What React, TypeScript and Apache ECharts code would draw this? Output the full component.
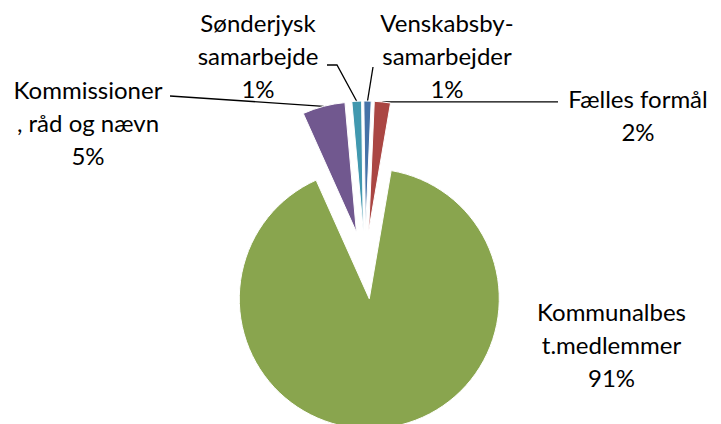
import React, { useEffect, useRef } from "react";
import * as echarts from "echarts";

// ---- data ----
const categories = [
  "Fælles formål",
  "Kommunalbest.medlemmer",
  "Kommissioner, råd og nævn",
  "Sønderjysk samarbejde",
  "Venskabsby-samarbejder",
];
// shares (percent)
const shares = [2.0, 90.6, 5.3, 1.2, 0.9];
// wrapped label text as shown in the picture
const labelTexts = [
  "Fælles formål",
  "Kommunalbes\nt.medlemmer",
  "Kommissioner\n, råd og nævn",
  "Sønderjysk\nsamarbejde",
  "Venskabsby-\nsamarbejder",
];

// ---- styles / layout ----
const colors = ["#AA4643", "#89A54E", "#71588F", "#4198AF", "#4572A7"];
const CENTER = [365, 265];
const RADIUS = 130;
const EXPLODE = 34;
const START_ANGLE = 87.5;
// label block centres
const labelPos: number[][] = [
  [638, 114.5],
  [611.5, 344],
  [88, 122],
  [258, 55],
  [447, 55],
];
// leader line points after the slice anchor (null = no line; -1 = same y as anchor)
const lineEnds: (number[][] | null)[] = [
  [[558, -1]],
  null,
  [[170, 96]],
  [[337, 65], [327, 65]],
  [[373, 67]],
];

export default function App() {
  const ref = useRef<HTMLDivElement>(null);
  useEffect(() => {
    if (!ref.current) return;
    const chart = echarts.init(ref.current, null, { renderer: "svg" });
    const sliceData = categories.map((name, i) => ({
      name,
      value: shares[i],
      selected: true,
      itemStyle: { color: colors[i] },
    }));
    const labelData = categories.map((name, i) => ({
      name,
      value: shares[i],
      labelLine: { show: lineEnds[i] !== null },
    }));
    const common = {
      type: "pie",
      center: CENTER,
      radius: RADIUS,
      startAngle: START_ANGLE,
      clockwise: true,
      avoidLabelOverlap: false,
      emphasis: { disabled: true },
    };
    chart.setOption({
      animation: false,
      backgroundColor: "#ffffff",
      series: [
        {
          ...common,
          selectedMode: "multiple",
          selectedOffset: EXPLODE,
          itemStyle: { borderColor: "#ffffff", borderWidth: 1 },
          label: { show: false },
          labelLine: { show: false },
          data: sliceData,
        },
        {
          ...common,
          silent: true,
          itemStyle: { color: "rgba(0,0,0,0)", borderWidth: 0 },
          label: {
            show: true,
            position: "outside",
            formatter: (p: any) =>
              labelTexts[p.dataIndex] + "\n" + Math.round(p.percent) + "%",
            color: "#000000",
            fontFamily: "Lato, 'Liberation Sans', sans-serif",
            fontSize: 24,
            lineHeight: 33,
            align: "center",
          },
          labelLine: {
            show: true,
            lineStyle: { color: "#000000", width: 1.3 },
          },
          labelLayout: (params: any) => {
            const i = params.dataIndex;
            const res: any = {
              x: labelPos[i][0],
              y: labelPos[i][1],
              align: "center",
              verticalAlign: "middle",
            };
            const pts = params.labelLinePoints;
            const ends = lineEnds[i];
            if (pts && ends) {
              const p0 = pts[0];
              const vx = p0[0] - CENTER[0];
              const vy = p0[1] - CENTER[1];
              const len = Math.sqrt(vx * vx + vy * vy) || 1;
              const start = [
                p0[0] + (vx / len) * EXPLODE,
                p0[1] + (vy / len) * EXPLODE,
              ];
              const rest = ends.map((e) => [e[0], e[1] < 0 ? start[1] : e[1]]);
              res.labelLinePoints = [start, ...rest];
            }
            return res;
          },
          data: labelData,
        },
      ],
    });
    return () => chart.dispose();
  }, []);
  return (
    <div
      ref={ref}
      style={{ position: "absolute", left: 0, top: 0, width: 721, height: 424 }}
    />
  );
}
